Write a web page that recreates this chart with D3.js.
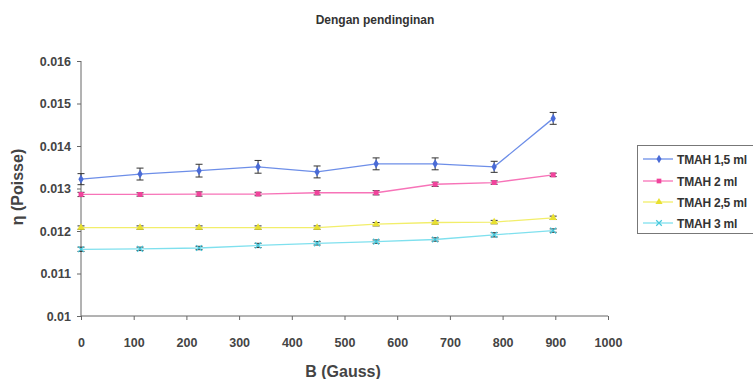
<!DOCTYPE html>
<html>
<head>
<meta charset="utf-8">
<script src="https://cdn.jsdelivr.net/npm/d3@7"></script>
<style>
  body { margin: 0; background: #fff; }
  svg { display: block; font-family: "Liberation Sans", Arial, sans-serif; }
  .tick text { font-size: 12.5px; font-weight: bold; fill: #444; }
  .domain, .tick line { stroke: #666; }
</style>
</head>
<body>
<svg id="chart" width="753" height="379"></svg>
<script>
// data
const fields = [0, 112, 224, 336, 448, 560, 672, 784, 896];
const tmah15 = [0.01322, 0.01334, 0.01342, 0.01351, 0.01339, 0.01358, 0.01358, 0.01351, 0.01465];
const tmah2 = [0.01286, 0.01286, 0.01287, 0.01287, 0.0129, 0.0129, 0.0131, 0.01314, 0.01332];
const tmah25 = [0.01208, 0.01208, 0.01208, 0.01208, 0.01208, 0.01216, 0.0122, 0.01221, 0.01231];
const tmah3 = [0.01157, 0.01158, 0.0116, 0.01166, 0.01171, 0.01175, 0.0118, 0.01191, 0.01201];
const err15 = [0.00013, 0.00014, 0.00015, 0.00015, 0.00014, 0.00014, 0.00014, 0.00013, 0.00014];
const err2 = [0.00005, 0.00004, 0.00005, 0.00004, 0.00005, 0.00005, 0.00005, 0.00004, 0.00004];
const err25 = [0.00004, 0.00004, 0.00004, 0.00004, 0.00004, 0.00004, 0.00004, 0.00004, 0.00004];
const err3 = [0.00005, 0.00004, 0.00004, 0.00005, 0.00004, 0.00004, 0.00004, 0.00005, 0.00004];
const xTicks = [0, 100, 200, 300, 400, 500, 600, 700, 800, 900, 1000];
const yTicks = [0.01, 0.011, 0.012, 0.013, 0.014, 0.015, 0.016];

const series = [
  { name: 'TMAH 1,5 ml', values: tmah15, err: err15, color: '#4a6bd6', line: '#6d8ee8', symbol: d3.symbolDiamond },
  { name: 'TMAH 2 ml', values: tmah2, err: err2, color: '#f0449c', line: '#f773b8', symbol: d3.symbolSquare },
  { name: 'TMAH 2,5 ml', values: tmah25, err: err25, color: '#e8e030', line: '#f2ee6a', symbol: d3.symbolTriangle },
  { name: 'TMAH 3 ml', values: tmah3, err: err3, color: '#46c8dc', line: '#7fe0ee', symbol: 'cross' }
];

const svg = d3.select('#chart');
const x = d3.scaleLinear().domain([0, 1000]).range([81, 608]);
const y = d3.scaleLinear().domain([0.01, 0.016]).range([316, 61]);

svg.append('text')
  .attr('x', 375).attr('y', 24)
  .attr('text-anchor', 'middle')
  .attr('font-size', 12).attr('font-weight', 'bold').attr('fill', '#333')
  .text('Dengan pendinginan');

svg.append('g')
  .attr('transform', 'translate(0,316)')
  .call(d3.axisBottom(x).tickValues(xTicks).tickFormat(d3.format('d')).tickSize(4).tickPadding(18))
  .call(g => g.select('.domain').attr('d', 'M81,0H608'));

svg.append('g')
  .attr('transform', 'translate(81,0)')
  .call(d3.axisLeft(y).tickValues(yTicks).tickFormat(d => String(+d.toFixed(3))).tickSize(4).tickPadding(6))
  .call(g => g.select('.domain').attr('d', 'M0,61V316'));

svg.append('text')
  .attr('x', 343).attr('y', 377)
  .attr('text-anchor', 'middle')
  .attr('font-size', 16).attr('font-weight', 'bold').attr('fill', '#444')
  .text('B (Gauss)');

svg.append('text')
  .attr('transform', 'translate(23,187) rotate(-90)')
  .attr('text-anchor', 'middle')
  .attr('font-size', 16).attr('font-weight', 'bold').attr('fill', '#444')
  .text('η (Poisse)');

const line = d3.line().x(d => x(d[0])).y(d => y(d[1]));

function drawMarker(g, s, size) {
  if (s.symbol === 'cross') {
    g.append('path')
      .attr('d', d3.symbol(d3.symbolX, size).size(size)())
      .attr('stroke', s.color).attr('stroke-width', 1.2).attr('fill', 'none');
  } else {
    g.append('path')
      .attr('d', d3.symbol(s.symbol, size)())
      .attr('fill', s.color);
  }
}

series.forEach(s => {
  const pts = fields.map((f, i) => [f, s.values[i], s.err[i]]);
  svg.append('path')
    .datum(pts)
    .attr('d', line)
    .attr('fill', 'none')
    .attr('stroke', s.line)
    .attr('stroke-width', 1.3);

  const eb = svg.append('g').attr('stroke', '#333').attr('stroke-width', 1);
  pts.forEach(p => {
    const cx = x(p[0]);
    const y1 = y(p[1] + p[2]);
    const y2 = y(p[1] - p[2]);
    eb.append('line').attr('x1', cx).attr('x2', cx).attr('y1', y1).attr('y2', y2);
    eb.append('line').attr('x1', cx - 3.5).attr('x2', cx + 3.5).attr('y1', y1).attr('y2', y1);
    eb.append('line').attr('x1', cx - 3.5).attr('x2', cx + 3.5).attr('y1', y2).attr('y2', y2);
  });

  pts.forEach(p => {
    const g = svg.append('g').attr('transform', `translate(${x(p[0])},${y(p[1])})`);
    drawMarker(g, s, 24);
  });
});

// legend
const legend = svg.append('g');
legend.append('rect')
  .attr('x', 637.5).attr('y', 145.5)
  .attr('width', 125).attr('height', 88)
  .attr('fill', '#fff').attr('stroke', '#777').attr('stroke-width', 1);

series.forEach((s, i) => {
  const ly = [159, 181, 202, 223][i];
  legend.append('line')
    .attr('x1', 643).attr('x2', 673).attr('y1', ly).attr('y2', ly)
    .attr('stroke', s.line).attr('stroke-width', 1.3);
  const g = legend.append('g').attr('transform', `translate(659,${ly})`);
  drawMarker(g, s, 22);
  legend.append('text')
    .attr('x', 677).attr('y', ly + 4.5)
    .attr('font-size', 12).attr('font-weight', 'bold').attr('fill', '#333')
    .attr('letter-spacing', -0.2)
    .text(s.name);
});
</script>
</body>
</html>
